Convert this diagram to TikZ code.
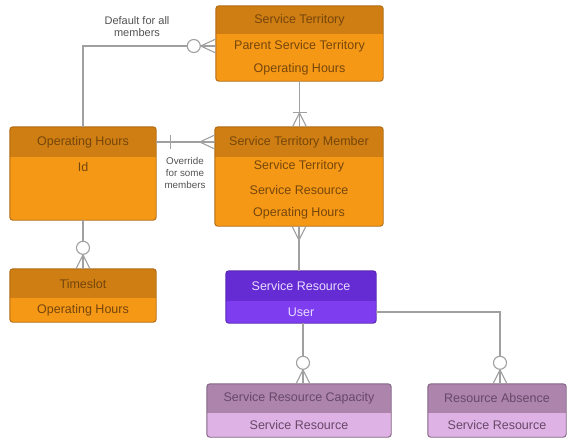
\documentclass[tikz,border=0pt]{standalone}
\usepackage{fontspec}
\setmainfont{Liberation Sans}
\usetikzlibrary{fit,calc}
\definecolor{orhead}{RGB}{206,126,18}
\definecolor{orbody}{RGB}{244,152,22}
\definecolor{orborder}{RGB}{176,104,14}
\definecolor{ortext}{RGB}{118,70,12}
\definecolor{srhead}{RGB}{102,44,212}
\definecolor{srbody}{RGB}{126,62,240}
\definecolor{srborder}{RGB}{84,34,176}
\definecolor{srtext}{RGB}{232,220,255}
\definecolor{lphead}{RGB}{172,132,172}
\definecolor{lpbody}{RGB}{222,178,228}
\definecolor{lpborder}{RGB}{128,98,128}
\definecolor{lptext}{RGB}{104,72,104}
\definecolor{linec}{RGB}{160,160,160}
\tikzset{
  x=1pt, y=-1pt,
  conn/.style={draw=linec, line width=1.2pt},
  deco/.style={draw=linec, line width=1.1pt},
  ring/.style={draw=linec, line width=1.1pt, fill=white},
  txt/.style={font=\fontsize{12.5}{14}\selectfont, inner sep=0pt, anchor=center},
  lbl/.style={font=\fontsize{11}{12}\selectfont, text=darkgray!90, align=center, inner sep=0pt},
  lbls/.style={font=\fontsize{9.8}{12}\selectfont, text=darkgray!90, align=center, inner sep=0pt},
}
% name, x1, y1, x2, y2, header bottom, head colour, body colour, border colour
\newcommand\entitybox[9]{%
  \node[fit={(#2,#3) (#4,#5)}, inner sep=0pt] (#1) {};
  \begin{scope}
    \clip[rounded corners=3pt] (#1.north west) rectangle (#1.south east);
    \fill[#8] (#1.north west) rectangle (#1.south east);
    \fill[#7] (#1.north west) rectangle (#4,#6);
  \end{scope}
  \draw[#9, line width=0.9pt, rounded corners=3pt] (#1.north west) rectangle (#1.south east);
}
\begin{document}
\begin{tikzpicture}
\useasboundingbox (0,0) rectangle (568,440);
\fill[white] (0,0) rectangle (568,440);

% entities
\entitybox{st}{216}{6}{383}{81}{34}{orhead}{orbody}{orborder}
\entitybox{oh}{10}{127}{156}{220}{157}{orhead}{orbody}{orborder}
\entitybox{stm}{215}{127}{383}{226}{157}{orhead}{orbody}{orborder}
\entitybox{ts}{10}{269}{156}{322}{298}{orhead}{orbody}{orborder}
\entitybox{sr}{226}{271}{376}{323}{301}{srhead}{srbody}{srborder}
\entitybox{src}{207}{384}{391}{437}{413}{lphead}{lpbody}{lpborder}
\entitybox{ra}{428}{384}{566}{437}{413}{lphead}{lpbody}{lpborder}

% texts
\node[txt, text=ortext] (st-t) at (299.5,20) {Service Territory};
\node[txt, text=ortext] (st-r1) at (299.5,46) {Parent Service Territory};
\node[txt, text=ortext] (st-r2) at (299.5,69) {Operating Hours};
\node[txt, text=ortext] (oh-t) at (83,142) {Operating Hours};
\node[txt, text=ortext] (oh-r1) at (83,167) {Id};
\node[txt, text=ortext] (stm-t) at (299,142) {Service Territory Member};
\node[txt, text=ortext] (stm-r1) at (299,166) {Service Territory};
\node[txt, text=ortext] (stm-r2) at (299,190) {Service Resource};
\node[txt, text=ortext] (stm-r3) at (299,213) {Operating Hours};
\node[txt, text=ortext] (ts-t) at (83,284) {Timeslot};
\node[txt, text=ortext] (ts-r1) at (83,310) {Operating Hours};
\node[txt, text=srtext] (sr-t) at (301,286) {Service Resource};
\node[txt, text=srtext] (sr-r1) at (301,312) {User};
\node[txt, text=lptext] (src-t) at (299,398) {Service Resource Capacity};
\node[txt, text=lptext] (src-r1) at (299,425) {Service Resource};
\node[txt, text=lptext] (ra-t) at (497,398) {Resource Absence};
\node[txt, text=lptext] (ra-r1) at (497,425) {Service Resource};

% labels
\node[lbl] (lbl-def) at (137,27) {Default for all\\members};
\node[lbls] (lbl-ovr) at (185,173) {Override\\for some\\members};

% connectors
\draw[conn] (st.west |- st-r1) -| (oh.north);
\draw[conn] (st.south) -- (st.south |- stm.north);
\draw[conn] (oh.east |- oh-t) -- (stm.west |- oh-t);
\draw[conn] (stm.south) -- (stm.south |- sr.north);
\draw[conn] (oh.south) -- (oh.south |- ts.north);
\draw[conn] ([xshift=2pt]sr.south) -- ([xshift=2pt]sr.south |- src.north);
\coordinate (raTop) at ([xshift=3pt]ra.north);
\draw[conn] (sr.east |- sr-r1) -| (raTop);

% 1: ST side, zero or many
\coordinate (e1) at (st.west |- st-r1);
\draw[deco] ($(e1)+(-15,0)$) -- ($(e1)+(0,-7)$) ($(e1)+(-15,0)$) -- ($(e1)+(0,7)$);
\draw[ring] ($(e1)+(-22,0)$) circle (6.5);

% 2: STM top, one or many
\coordinate (e2) at (st.south |- stm.north);
\draw[deco] ($(e2)+(0,-14)$) -- ($(e2)+(-7,0)$) ($(e2)+(0,-14)$) -- ($(e2)+(7,0)$);
\draw[deco] ($(e2)+(-7,-14)$) -- ($(e2)+(7,-14)$);

% 3: OH side one, STM side many
\coordinate (e3a) at (oh.east |- oh-t);
\coordinate (e3b) at (stm.west |- oh-t);
\draw[deco] ($(e3a)+(14,-7)$) -- ($(e3a)+(14,7)$);
\draw[deco] ($(e3b)+(-15,0)$) -- ($(e3b)+(0,-7)$) ($(e3b)+(-15,0)$) -- ($(e3b)+(0,7)$);

% 4: STM bottom, many
\coordinate (e4) at (stm.south);
\draw[deco] ($(e4)+(0,14)$) -- ($(e4)+(-7,0)$) ($(e4)+(0,14)$) -- ($(e4)+(7,0)$);

% 5: Timeslot top, zero or many
\coordinate (e5) at (oh.south |- ts.north);
\draw[deco] ($(e5)+(0,-14)$) -- ($(e5)+(-7,0)$) ($(e5)+(0,-14)$) -- ($(e5)+(7,0)$);
\draw[ring] ($(e5)+(0,-21)$) circle (6.5);

% 6: SRC top, zero or many
\coordinate (e6) at ([xshift=2pt]sr.south |- src.north);
\draw[deco] ($(e6)+(0,-14)$) -- ($(e6)+(-7,0)$) ($(e6)+(0,-14)$) -- ($(e6)+(7,0)$);
\draw[ring] ($(e6)+(0,-21)$) circle (6.5);

% 7: RA top, zero or many
\draw[deco] ($(raTop)+(0,-14)$) -- ($(raTop)+(-7,0)$) ($(raTop)+(0,-14)$) -- ($(raTop)+(7,0)$);
\draw[ring] ($(raTop)+(0,-21)$) circle (6.5);
\end{tikzpicture}
\end{document}
